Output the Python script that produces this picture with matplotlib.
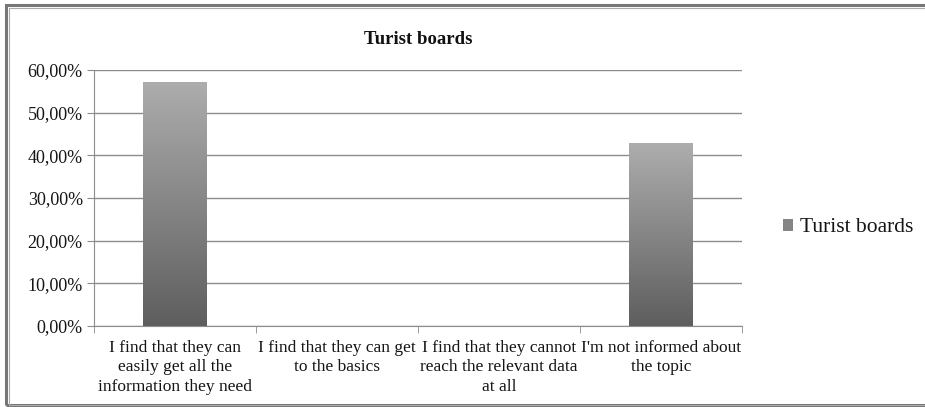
import numpy as np
import matplotlib.pyplot as plt
from matplotlib.patches import Rectangle
from matplotlib.ticker import FuncFormatter
from matplotlib.colors import LinearSegmentedColormap

plt.rcParams['font.family'] = ['Liberation Serif', 'DejaVu Serif']

# data
categories = ["I find that they can\neasily get all the\ninformation they need",
              "I find that they can get\nto the basics",
              "I find that they cannot\nreach the relevant data\nat all",
              "I'm not informed about\nthe topic"]
values = [0.5714, 0.0, 0.0, 0.4286]
series_name = "Turist boards"
yticks = [0, 0.1, 0.2, 0.3, 0.4, 0.5, 0.6]

fig = plt.figure(figsize=(9.25, 4.07), dpi=100)
ax = fig.add_axes([0.1016, 0.199, 0.7004, 0.629])

x = np.arange(len(categories))
bars = ax.bar(x, values, width=0.39, color='#888888', label=series_name, zorder=2)

# vertical gradient inside each bar
grad = np.linspace(0, 1, 256).reshape(-1, 1)
cmap = LinearSegmentedColormap.from_list('g', ['#5e5e5e', '#adadad'])
for b in bars:
    h = b.get_height()
    if h <= 0:
        continue
    b.set_facecolor('none')
    b.set_edgecolor('none')
    im = ax.imshow(grad, cmap=cmap, aspect='auto', origin='lower',
                   extent=[b.get_x(), b.get_x() + b.get_width(), 0, h], zorder=2)
    im.set_clip_path(b)

ax.set_xlim(-0.5, len(categories) - 0.5)
ax.set_ylim(0, 0.6)
ax.set_yticks(yticks)
ax.yaxis.set_major_formatter(FuncFormatter(lambda v, p: f"{v*100:.2f}%".replace('.', ',')))
ax.yaxis.grid(True, color='#8c8c8c', linewidth=1.0, zorder=0)
ax.set_axisbelow(True)

ax.set_xticks(x)
ax.set_xticklabels(categories, fontsize=12.5, color='#151515', linespacing=1.28)
ax.tick_params(axis='x', length=0, pad=10)
ax.set_xticks(np.arange(-0.5, len(categories)), minor=True)
ax.tick_params(axis='x', which='minor', length=5, color='#8c8c8c', direction='out')
ax.tick_params(axis='y', length=5, color='#8c8c8c', labelsize=13, labelcolor='#151515', pad=3)

for s in ['top', 'right']:
    ax.spines[s].set_visible(False)
ax.spines['left'].set_color('#8c8c8c')
ax.spines['bottom'].set_color('#8c8c8c')

ax.set_title(series_name, fontsize=13.5, fontweight='bold', pad=19, color='#111111')

leg_handle = Rectangle((0, 0), 1, 1, facecolor='#858585', edgecolor='none')
fig.legend([leg_handle], [series_name], loc='center left', bbox_to_anchor=(0.826, 0.44),
           frameon=False, fontsize=15.5, handlelength=0.45, handleheight=0.45,
           handletextpad=0.3, labelcolor='#151515')

# outer frame
fig.patches.append(Rectangle((0.006, 0.004), 1.2, 0.984, transform=fig.transFigure,
                             fill=False, edgecolor='#777777', linewidth=2.2))
fig.patches.append(Rectangle((0.0095, 0.004), 1.2, 0.976, transform=fig.transFigure,
                             fill=False, edgecolor='#aaaaaa', linewidth=0.8))

fig.savefig("out.png", dpi=100)
